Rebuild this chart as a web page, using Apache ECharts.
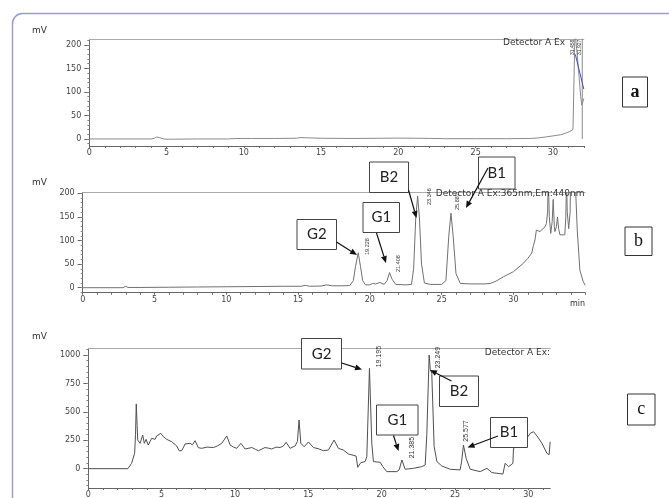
<!DOCTYPE html>
<html>
<head>
<meta charset="utf-8">
<script src="https://cdn.jsdelivr.net/npm/echarts@6/dist/echarts.min.js"></script>
<style>
html, body { margin: 0; padding: 0; background: #fff; }
#chart { width: 669px; height: 498px; }
</style>
</head>
<body>
<div id="chart"></div>
<script>
// chromatogram traces, [time (min), signal (mV)]
var traceA = [[0,0],[4.0,0],[4.2,1],[4.35,4],[4.43,6],[4.55,3],[4.7,1],[4.9,-0.5],[5.5,-0.5],[7,0],[9,0],[9.5,1],[10.5,1],[12,1],[13.4,1.5],[13.7,3],[14.0,2.5],[14.5,2],[15,1.5],[17,1],[19,1.5],[20,1.8],[21,1.5],[22,1.2],[23,0.5],[25,0.5],[27,0.5],[28.5,1],[29,2],[29.5,4],[30,6.5],[30.5,9],[30.8,12],[31.1,16],[31.3,20],[31.4,22],[31.43,230],[31.5,205],[31.6,170],[31.7,130],[31.8,90],[31.87,72],[31.93,78],[32,86]];
var traceAEnd = [[31.9,0],[31.9,230]];
var baselineA = [[31.45,180],[32,106]];

var traceB = [[0,0],[2.8,0],[3.0,3],[3.15,0.5],[4,0.5],[6,1],[8,1.5],[10,2],[12,2.5],[14,3],[15.2,3],[15.5,5],[15.8,3],[16.6,3.5],[17.0,6],[17.4,4],[18,4],[18.6,4.5],[18.85,15],[19.0,45],[19.19,74],[19.35,45],[19.5,15],[19.7,6],[20.0,6],[20.2,9],[20.4,8],[20.7,11],[21.0,7],[21.2,15],[21.37,32],[21.55,18],[21.8,7],[22.5,6],[22.9,7],[23.05,40],[23.2,150],[23.33,194],[23.45,150],[23.6,50],[23.8,10],[24.2,7],[25.0,7],[25.3,15],[25.5,110],[25.65,158],[25.8,110],[26.0,30],[26.3,9],[27,8],[28.0,8],[28.4,9],[28.8,14],[29.3,23],[30.0,34],[30.7,52],[31.0,62],[31.27,73],[31.4,90],[31.5,101],[31.6,122],[31.7,118],[31.85,119],[32.2,129],[32.3,136],[32.38,160],[32.43,230],[32.5,150],[32.6,115],[32.7,140],[32.77,187],[32.85,130],[32.89,119],[33.0,130],[33.07,150],[33.15,125],[33.24,112],[33.58,112],[33.65,150],[33.7,230],[33.75,160],[33.85,125],[33.95,160],[33.98,230],[34.3,230],[34.45,120],[34.63,37],[34.86,13],[35,5]];

var traceC = [[0,0],[2.7,0],[2.95,47],[3.16,135],[3.22,300],[3.27,570],[3.33,380],[3.37,252],[3.53,223],[3.71,296],[3.82,223],[3.94,258],[4.09,208],[4.32,267],[4.55,258],[4.66,288],[4.94,311],[5.12,281],[5.35,258],[5.69,237],[6.03,200],[6.19,158],[6.37,158],[6.6,217],[6.94,223],[7.1,210],[7.28,246],[7.5,185],[7.73,179],[8.1,190],[8.53,186],[8.8,200],[9.1,223],[9.44,288],[9.67,208],[9.9,190],[10.12,179],[10.4,223],[10.69,173],[11.15,186],[11.4,170],[11.6,158],[12.05,186],[12.3,180],[12.51,173],[12.8,190],[13.08,186],[13.3,200],[13.49,232],[13.76,179],[14.1,200],[14.26,240],[14.37,428],[14.49,223],[14.72,193],[15.01,235],[15.35,186],[15.7,175],[16.03,158],[16.37,164],[16.76,252],[17.05,179],[17.39,164],[17.74,129],[18.26,111],[18.37,12],[18.48,3],[18.58,53],[18.87,62],[18.99,106],[19.17,883],[19.33,223],[19.44,62],[19.9,56],[20.08,18],[20.35,-26],[21.04,-26],[21.2,-10],[21.38,77],[21.6,-5],[22.17,3],[22.74,18],[22.97,33],[23.08,300],[23.24,1000],[23.32,870],[23.42,839],[23.58,194],[23.77,62],[24.1,24],[24.67,-5],[25.35,-11],[25.45,60],[25.58,208],[25.76,91],[26.04,-5],[26.72,-26],[27.18,3],[27.52,-35],[28.27,-47],[28.42,47],[28.65,18],[28.95,47],[28.99,179],[29.67,223],[30.13,311],[30.36,325],[30.59,288],[30.93,223],[31.27,135],[31.42,123],[31.49,237]];

// axis tick labels
var xLabels = [0, 5, 10, 15, 20, 25, 30];
var yLabelsAB = [0, 50, 100, 150, 200];
var yLabelsC = [0, 250, 500, 750, 1000];

// peak retention time tags
var tagsA = ['31.458', '31.927'];
var tagsB = ['19.228', '21.408', '23.346', '25.881'];
var tagsC = ['19.195', '21.385', '23.249', '25.577'];

function steps(from, to, step) {
	var out = [];
	for (var v = from; v <= to + 1e-9; v += step) out.push(Math.round(v * 1000) / 1000);
	return out;
}

var axisColor = '#666';
var labelFont = {
	fontSize: 8, color: '#444', fontFamily: 'DejaVu Sans',
	formatter: function(v) { return String(v); }
};

var panels = [
	{ xMax: 32, yMin: -15, yMax: 212, yLabels: yLabelsAB, yMinor: steps(-10, 210, 10) },
	{ xMax: 35, yMin: -10.6, yMax: 201.7, yLabels: yLabelsAB, yMinor: steps(-10, 200, 10) },
	{ xMax: 31.5, yMin: -170, yMax: 1059, yLabels: yLabelsC, yMinor: steps(-150, 1050, 50) }
];

var xAxes = [], yAxes = [];
panels.forEach(function(p, i) {
	xAxes.push({
		type: 'value', gridIndex: i, position: 'bottom', min: 0, max: p.xMax,
		axisLine: { show: true, onZero: false, lineStyle: { color: axisColor } },
		axisTick: { show: true, customValues: steps(0, Math.floor(p.xMax), 1), length: 2, lineStyle: { color: axisColor } },
		axisLabel: Object.assign({ customValues: xLabels, margin: 3 }, labelFont),
		splitLine: { show: false }
	});
	xAxes.push({
		type: 'value', gridIndex: i, position: 'top', min: 0, max: p.xMax,
		axisLine: { show: true, onZero: false, lineStyle: { color: '#aaa' } },
		axisTick: { show: false }, axisLabel: { show: false }, splitLine: { show: false }
	});
	yAxes.push({
		type: 'value', gridIndex: i, position: 'left', min: p.yMin, max: p.yMax,
		axisLine: { show: true, onZero: false, lineStyle: { color: axisColor } },
		axisTick: { show: true, customValues: p.yLabels, length: 5, lineStyle: { color: axisColor } },
		axisLabel: Object.assign({ customValues: p.yLabels, margin: 8 }, labelFont),
		splitLine: { show: false }
	});
	yAxes.push({
		type: 'value', gridIndex: i, position: 'left', min: p.yMin, max: p.yMax,
		axisLine: { show: false, onZero: false },
		axisTick: { show: true, customValues: p.yMinor, length: 2, lineStyle: { color: '#888' } },
		axisLabel: { show: false }, splitLine: { show: false }
	});
});

function trace(data, i, color) {
	return {
		type: 'line', xAxisIndex: 2 * i, yAxisIndex: 2 * i, data: data,
		showSymbol: false, silent: true, clip: true,
		lineStyle: { color: color, width: 1 }
	};
}

function txt(x, y, s, extra) {
	return {
		type: 'text', x: x, y: y, z: 20, silent: true,
		style: Object.assign({ text: s, fill: '#333', fontSize: 9, fontFamily: 'DejaVu Sans', align: 'left', verticalAlign: 'middle' }, extra || {})
	};
}

function tag(x, y, s, size) {
	return {
		type: 'text', x: x, y: y, rotation: Math.PI / 2, z: 20, silent: true,
		style: { text: s, fill: '#333', fontSize: size, fontFamily: 'Liberation Sans Narrow, sans-serif', align: 'left', verticalAlign: 'middle' }
	};
}

function box(x, y, w, h, s) {
	return [{
		type: 'rect', z: 30, silent: true,
		shape: { x: x, y: y, width: w, height: h },
		style: { fill: '#fff', stroke: '#444', lineWidth: 1 }
	}, {
		type: 'text', z: 31, silent: true, x: x + w / 2, y: y + h / 2,
		style: { text: s, fill: '#222', fontSize: 15, fontFamily: 'Lato', align: 'center', verticalAlign: 'middle' }
	}];
}

function letter(x, y, w, h, s, bold) {
	return [{
		type: 'rect', z: 30, silent: true,
		shape: { x: x, y: y, width: w, height: h },
		style: { fill: '#fff', stroke: '#333', lineWidth: 1 }
	}, {
		type: 'text', z: 31, silent: true, x: x + w / 2, y: y + h / 2,
		style: { text: s, fill: '#111', fontSize: 18, fontWeight: bold ? 'bold' : 'normal', fontFamily: 'Liberation Serif', align: 'center', verticalAlign: 'middle' }
	}];
}

function arrow(x1, y1, x2, y2) {
	var dx = x2 - x1, dy = y2 - y1, len = Math.sqrt(dx * dx + dy * dy);
	var ux = dx / len, uy = dy / len, hl = 7, hw = 3;
	var bx = x2 - ux * hl, by = y2 - uy * hl;
	return [{
		type: 'line', z: 32, silent: true,
		shape: { x1: x1, y1: y1, x2: bx, y2: by },
		style: { stroke: '#111', lineWidth: 1.2 }
	}, {
		type: 'polygon', z: 32, silent: true,
		shape: { points: [[x2, y2], [bx - uy * hw, by + ux * hw], [bx + uy * hw, by - ux * hw]] },
		style: { fill: '#111' }
	}];
}

var graphics = [{
	type: 'rect', z: 1, silent: true,
	shape: { x: 12.5, y: 13.5, width: 700, height: 520, r: 10 },
	style: { fill: 'none', stroke: '#9a9ad2', lineWidth: 1.5 }
}];
graphics.push(txt(32, 31, 'mV'), txt(32, 183, 'mV'), txt(32, 337, 'mV'));
graphics.push(txt(585, 304, 'min', { align: 'right', fontSize: 8 }));
graphics.push(txt(503, 43, 'Detector A Ex'));
graphics.push(txt(584.5, 194, 'Detector A Ex:365nm,Em:440nm', { align: 'right' }));
graphics.push(txt(550, 353, 'Detector A Ex:', { align: 'right' }));

graphics.push(tag(573, 55, tagsA[0], 5), tag(580, 55, tagsA[1], 5));
graphics.push(tag(367, 255, tagsB[0], 5.5), tag(398.3, 272, tagsB[1], 5.5), tag(429, 205, tagsB[2], 5.5), tag(457, 210, tagsB[3], 5.5));
graphics.push(tag(379.3, 367.3, tagsC[0], 7), tag(411.7, 458.3, tagsC[1], 7), tag(438.3, 368.3, tagsC[2], 7), tag(465.7, 441.7, tagsC[3], 7));

graphics = graphics
	.concat(box(297, 219.5, 39.5, 30, 'G2'), arrow(336.5, 242, 357, 255))
	.concat(box(363, 202.5, 36.5, 30, 'G1'), arrow(376.5, 233, 386, 263))
	.concat(box(369.5, 162, 39, 30.5, 'B2'), arrow(408.5, 190, 416.5, 218))
	.concat(box(478.5, 157, 36.5, 32, 'B1'), arrow(488, 168, 466, 208))
	.concat(box(301.5, 338.5, 40, 30.5, 'G2'), arrow(341.7, 363, 362, 369.5))
	.concat(box(376.5, 405, 41.5, 30, 'G1'), arrow(393.5, 435.5, 398.5, 451))
	.concat(box(439.5, 376, 39, 30.5, 'B2'), arrow(451.5, 381, 430, 370))
	.concat(box(490.5, 417.5, 37, 30, 'B1'), arrow(498, 436, 467.5, 447.5))
	.concat(letter(622.5, 77, 25, 30, 'a', true))
	.concat(letter(625, 227, 27, 28.5, 'b', false))
	.concat(letter(627.5, 394, 27.5, 31, 'c', false));

var option = {
	animation: false,
	backgroundColor: '#fff',
	grid: [
		{ left: 89.3, top: 39.3, width: 494.5, height: 106.7, outerBoundsMode: 'none' },
		{ left: 82.7, top: 192.5, width: 502.5, height: 100.2, outerBoundsMode: 'none' },
		{ left: 88.3, top: 348.3, width: 462, height: 139.7, outerBoundsMode: 'none' }
	],
	xAxis: xAxes,
	yAxis: yAxes,
	series: [
		trace(traceA, 0, '#8a8a8a'),
		trace(traceAEnd, 0, '#8a8a8a'),
		trace(baselineA, 0, '#3a4fc8'),
		trace(traceB, 1, '#707070'),
		trace(traceC, 2, '#505050')
	],
	graphic: graphics
};

//初始化echarts实例
var myChart = echarts.init(document.getElementById('chart'));
myChart.setOption(option);
</script>
</body>
</html>
